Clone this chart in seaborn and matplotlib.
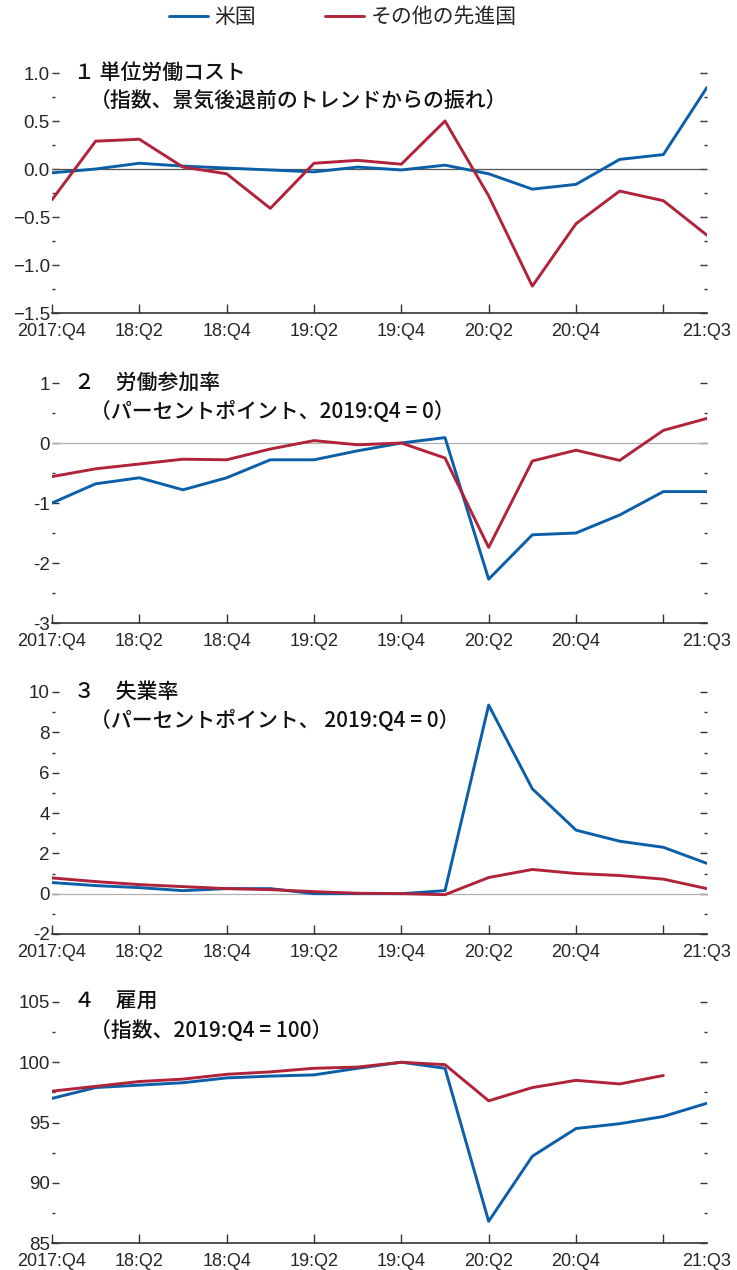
import numpy as np
import pandas as pd
import seaborn as sns
import matplotlib.pyplot as plt
from matplotlib.ticker import MultipleLocator, FixedLocator, FixedFormatter

# quarterly data, 2017:Q4 - 2021:Q3
quarters = ["2017:Q4", "18:Q1", "18:Q2", "18:Q3", "18:Q4", "19:Q1", "19:Q2", "19:Q3",
            "19:Q4", "20:Q1", "20:Q2", "20:Q3", "20:Q4", "21:Q1", "21:Q2", "21:Q3"]
series_names = ["米国", "その他の先進国"]
colors = ["#0b5fa9", "#b0233a"]

ulc_us = [-0.04, 0.0, 0.06, 0.03, 0.01, -0.01, -0.03, 0.02, -0.01, 0.04, -0.05, -0.21, -0.16, 0.10, 0.15, 0.85]
ulc_other = [-0.32, 0.29, 0.31, 0.02, -0.05, -0.41, 0.06, 0.09, 0.05, 0.50, -0.28, -1.22, -0.57, -0.23, -0.33, -0.69]

lfpr_us = [-1.0, -0.68, -0.58, -0.78, -0.58, -0.28, -0.28, -0.13, 0.0, 0.09, -2.27, -1.53, -1.5, -1.2, -0.81, -0.81]
lfpr_other = [-0.56, -0.43, -0.35, -0.27, -0.28, -0.1, 0.04, -0.03, 0.0, -0.25, -1.74, -0.3, -0.12, -0.29, 0.21, 0.41]

unemp_us = [0.55, 0.4, 0.3, 0.15, 0.25, 0.25, 0.0, 0.0, 0.0, 0.15, 9.35, 5.2, 3.15, 2.6, 2.3, 1.5]
unemp_other = [0.78, 0.6, 0.45, 0.35, 0.25, 0.2, 0.1, 0.02, 0.0, -0.05, 0.8, 1.2, 1.0, 0.9, 0.72, 0.25]

emp_us = [97.0, 97.9, 98.1, 98.3, 98.7, 98.85, 98.95, 99.5, 100.0, 99.5, 86.8, 92.2, 94.5, 94.9, 95.5, 96.6]
emp_other = [97.6, 98.0, 98.4, 98.6, 99.0, 99.2, 99.5, 99.6, 100.0, 99.8, 96.8, 97.9, 98.5, 98.2, 98.9, np.nan]

xtick_pos = [0, 2, 4, 6, 8, 10, 12, 14, 15]
xtick_labels = ["2017:Q4", "18:Q2", "18:Q4", "19:Q2", "19:Q4", "20:Q2", "20:Q4", "", "21:Q3"]

panels = [
    dict(us=ulc_us, other=ulc_other, title="１ 単位労働コスト",
         sub="（指数、景気後退前のトレンドからの振れ）",
         yticks=[1.0, 0.5, 0.0, -0.5, -1.0, -1.5],
         ylabels=["1.0", "0.5", "0.0", "−0.5", "−1.0", "−1.5"], minor=0.25,
         zero="#555555", rect=[313, 73]),
    dict(us=lfpr_us, other=lfpr_other, title="２　労働参加率",
         sub="（パーセントポイント、2019:Q4 = 0）",
         yticks=[1, 0, -1, -2, -3], ylabels=["1", "0", "-1", "-2", "-3"], minor=0.5,
         zero="#b0b0b0", rect=[623, 383]),
    dict(us=unemp_us, other=unemp_other, title="３　失業率",
         sub="（パーセントポイント、 2019:Q4 = 0）",
         yticks=[10, 8, 6, 4, 2, 0, -2], ylabels=["10", "8", "6", "4", "2", "0", "-2"], minor=1,
         zero="#b0b0b0", rect=[934, 692]),
    dict(us=emp_us, other=emp_other, title="４　雇用",
         sub="（指数、2019:Q4 = 100）",
         yticks=[105, 100, 95, 90, 85], ylabels=["105", "100", "95", "90", "85"], minor=2.5,
         zero=None, rect=[1243, 1002]),
]

sns.set_theme(style="white")
plt.rcParams["font.family"] = ["Liberation Sans", "Noto Sans CJK JP", "DejaVu Sans"]

W, H = 737, 1270
fig = plt.figure(figsize=(W / 100, H / 100), dpi=100)
x_left, x_right = 52, 707

handles = None
for p in panels:
    bot_px, top_px = p["rect"]
    ax = fig.add_axes([x_left / W, 1 - bot_px / H, (x_right - x_left) / W, (bot_px - top_px) / H])
    n = len(quarters)
    df = pd.DataFrame({
        "q": list(range(n)) * 2,
        "value": list(p["us"]) + list(p["other"]),
        "series": [series_names[0]] * n + [series_names[1]] * n,
    })
    if p["zero"]:
        ax.axhline(0, color=p["zero"], lw=0.9, zorder=1)
    sns.lineplot(data=df, x="q", y="value", hue="series", hue_order=series_names,
                 palette=colors, lw=2.1, ax=ax, zorder=3)
    handles, labels = ax.get_legend_handles_labels()
    ax.get_legend().remove()

    ax.set_xlim(0, 15)
    ax.set_ylim(min(p["yticks"]), max(p["yticks"]))
    ax.set_xlabel("")
    ax.set_ylabel("")

    ax.xaxis.set_major_locator(FixedLocator(xtick_pos))
    ax.xaxis.set_major_formatter(FixedFormatter(xtick_labels))
    ax.yaxis.set_major_locator(FixedLocator(p["yticks"]))
    ax.yaxis.set_major_formatter(FixedFormatter(p["ylabels"]))
    ax.yaxis.set_minor_locator(MultipleLocator(p["minor"]))

    ax.tick_params(axis="x", which="major", direction="in", length=6.5, width=1,
                   color="#333333", labelsize=13, pad=7, bottom=True)
    ax.xaxis.get_major_ticks()[-1].tick1line.set_visible(False)
    ax.tick_params(axis="y", which="major", direction="in", length=5, width=1,
                   color="#333333", labelsize=13.5, pad=1.5, left=True, right=True)
    ax.tick_params(axis="y", which="minor", direction="in", length=2, width=1,
                   color="#333333", left=True, right=True)

    for s in ["top", "left", "right"]:
        ax.spines[s].set_visible(False)
    ax.spines["bottom"].set_color("#333333")
    ax.spines["bottom"].set_linewidth(1.2)

    ax.annotate(p["title"], xy=(0, 1), xycoords="axes fraction", xytext=(15.5, 0),
                textcoords="offset points", va="center", ha="left", fontsize=15,
                fontweight="medium", family=["Noto Sans CJK JP", "DejaVu Sans"], color="#111111")
    ax.annotate(p["sub"], xy=(0, 1), xycoords="axes fraction", xytext=(27, -21),
                textcoords="offset points", va="center", ha="left", fontsize=15,
                fontweight="medium", family=["Noto Sans CJK JP", "DejaVu Sans"], color="#111111")

fig.legend(handles, series_names, loc="center", bbox_to_anchor=(0.465, 1 - 17 / H), ncol=2,
           frameon=False, handlelength=1.9, handletextpad=0.3, columnspacing=3.3,
           prop={"family": ["Noto Sans CJK JP", "DejaVu Sans"], "size": 15})

fig.savefig("out.png", dpi=100)
